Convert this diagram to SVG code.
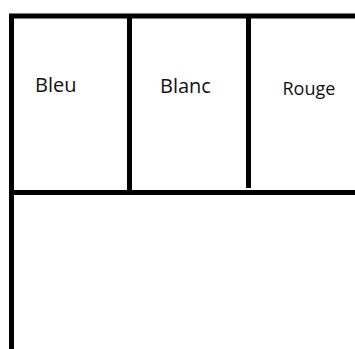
<svg xmlns="http://www.w3.org/2000/svg" width="355" height="349" viewBox="0 0 355 349">
<style>
.ln{stroke:#000;stroke-width:5;fill:none}
.t{font-family:"Open Sans","Noto Sans",sans-serif;fill:#111}
</style>
<rect width="355" height="349" fill="#fff"/>
<g id="connectors">
<line class="ln" x1="9" y1="16" x2="355" y2="16"/>
<line class="ln" x1="11.5" y1="14" x2="11.5" y2="349"/>
<line class="ln" x1="129.5" y1="14" x2="129.5" y2="190"/>
<line class="ln" x1="248.5" y1="14" x2="248.5" y2="188"/>
<line class="ln" x1="9" y1="192.5" x2="355" y2="192.5"/>
</g>
<g id="bleu"><text class="t" x="35" y="92" font-size="20">Bleu</text></g>
<g id="blanc"><text class="t" x="160" y="93" font-size="20">Blanc</text></g>
<g id="rouge"><text class="t" x="282.5" y="95" font-size="18">Rouge</text></g>
</svg>
